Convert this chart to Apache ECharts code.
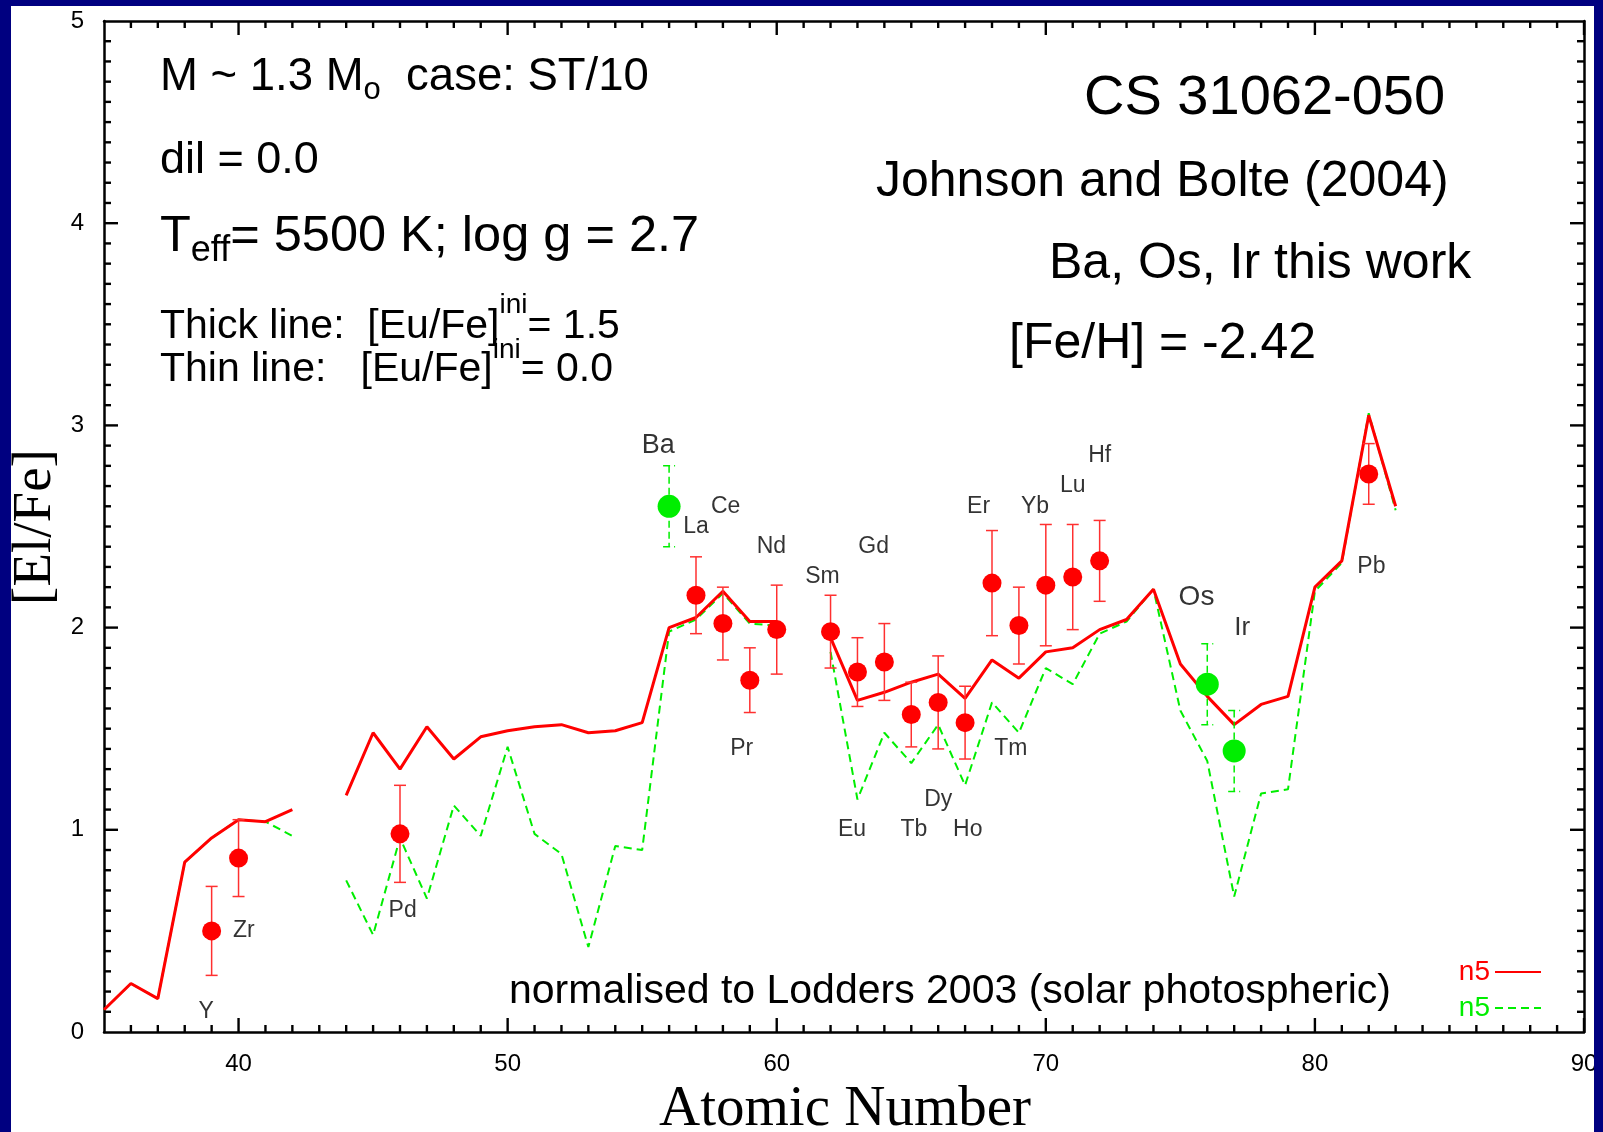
<!DOCTYPE html>
<html><head><meta charset="utf-8">
<script src="https://cdn.jsdelivr.net/npm/echarts@6/dist/echarts.min.js"></script>
<style>html,body{margin:0;padding:0;background:#fff;} #c{width:1603px;height:1132px;}</style>
</head><body><div id="c"></div>
<script>
// ---------- data ----------
const atomicNumbers = [35,36,37,38,39,40,41,42,43,44,45,46,47,48,49,50,51,52,53,54,55,56,57,58,59,60,61,62,63,64,65,66,67,68,69,70,71,72,73,74,75,76,77,78,79,80,81,82,83];
// thick line model ([Eu/Fe]ini = 1.5); null = element not plotted (Tc, Pm)
const modelThick = [0.11,0.24,0.165,0.84,0.96,1.05,1.04,1.10,null,1.17,1.48,1.30,1.51,1.35,1.46,1.49,1.51,1.52,1.48,1.49,1.53,2.00,2.05,2.18,2.03,2.03,null,1.95,1.64,1.68,1.73,1.77,1.65,1.84,1.75,1.88,1.90,1.99,2.04,2.19,1.82,1.66,1.52,1.62,1.66,2.20,2.33,3.05,2.60];
// thin line model ([Eu/Fe]ini = 0.0)
const modelThin = [0.11,0.24,0.165,0.84,0.96,1.05,1.04,0.97,null,0.75,0.48,0.96,0.66,1.12,0.97,1.41,0.98,0.88,0.42,0.92,0.90,1.98,2.04,2.17,2.02,2.01,null,1.88,1.15,1.48,1.33,1.52,1.22,1.63,1.48,1.80,1.72,1.97,2.03,2.19,1.59,1.34,0.67,1.18,1.20,2.18,2.32,3.06,2.58];
// observations, Johnson and Bolte (2004)
const obsRedZ   = [39,40,46,57,58,59,60,62,63,64,65,66,67,68,69,70,71,72,82];
const obsRedVal = [0.50,0.86,0.98,2.16,2.02,1.74,1.99,1.98,1.78,1.83,1.57,1.63,1.53,2.22,2.01,2.21,2.25,2.33,2.76];
const obsRedErr = [0.22,0.19,0.24,0.19,0.18,0.16,0.22,0.18,0.17,0.19,0.16,0.23,0.18,0.26,0.19,0.30,0.26,0.20,0.15];
// observations, this work (Ba, Os, Ir)
const obsGreenZ   = [56,76,77];
const obsGreenVal = [2.60,1.72,1.39];
const obsGreenErr = [0.20,0.20,0.20];
// element labels and their anchor points (data units)
const elementNames = ['Y','Zr','Pd','Ba','La','Ce','Nd','Pr','Sm','Gd','Eu','Tb','Dy','Ho','Er','Tm','Yb','Lu','Hf','Os','Ir','Pb'];
const elementLabelZ = [38.8,40.2,46.1,55.6,57.0,58.1,59.8,58.7,61.7,63.6,62.8,65.1,66.0,67.1,67.5,68.7,69.6,71.0,72.0,75.6,77.3,82.1];
const elementLabelV = [0.1,0.5,0.6,2.9,2.5,2.6,2.4,1.4,2.25,2.4,1.0,1.0,1.15,1.0,2.6,1.4,2.6,2.7,2.85,2.15,2.0,2.3];
const elementLabelSize = [23,23,23,27,23,23,23,23,23,23,23,23,23,23,23,23,23,23,23,28,26,23];
// tick labels / tick values
const xLabelTicks = [40,50,60,70,80,90];
const yLabelTicks = [0,1,2,3,4,5];
const xMinorTicks = [36,37,38,39,41,42,43,44,45,46,47,48,49,51,52,53,54,55,56,57,58,59,61,62,63,64,65,66,67,68,69,71,72,73,74,75,76,77,78,79,81,82,83,84,85,86,87,88,89];

// ---------- build ----------
const SANS = 'Liberation Sans';
const RED = '#ff0000', GREEN = '#00ee00';
const GRID = {left:104, top:21, width:1480, height:1011};

const thickData = atomicNumbers.map((z,i)=>[z, modelThick[i]]);
const thinData  = atomicNumbers.map((z,i)=>[z, modelThin[i]]);
const redObs = obsRedZ.map((z,i)=>[z, obsRedVal[i], obsRedErr[i]]);
const greenObs = obsGreenZ.map((z,i)=>[z, obsGreenVal[i], obsGreenErr[i]]);
const labelData = elementNames.map((n,i)=>({
  value:[elementLabelZ[i], elementLabelV[i]], name:n,
  label:{fontSize: elementLabelSize[i]}
}));

function errRender(color, dashed){
  return function(params, api){
    const x = api.value(0), v = api.value(1), e = api.value(2);
    const top = api.coord([x, v+e]), bot = api.coord([x, v-e]);
    const hw = 6;
    const style = {stroke: color, lineWidth: 1.5, lineDash: dashed ? [7,4] : null, fill: null};
    return {type:'group', children:[
      {type:'line', shape:{x1:top[0],y1:top[1],x2:bot[0],y2:bot[1]}, style: style},
      {type:'line', shape:{x1:top[0]-hw,y1:top[1],x2:top[0]+hw,y2:top[1]}, style: style},
      {type:'line', shape:{x1:bot[0]-hw,y1:bot[1],x2:bot[0]+hw,y2:bot[1]}, style: style}
    ]};
  };
}

function xAxisDef(pos, labels){
  return {
    type:'value', position: pos, min:35, max:90, gridIndex:0,
    axisLine:{show:true, onZero:false, lineStyle:{color:'#000', width:2.5}},
    splitLine:{show:false},
    axisTick:{show:false},
    axisLabel:{show: labels, fontSize:24, fontFamily:SANS, color:'#000', margin:20, customValues: xLabelTicks}
  };
}
function yAxisDef(pos, labels){
  return {
    type:'value', position: pos, min:0, max:5, interval:1, gridIndex:0,
    axisLine:{show:true, onZero:false, lineStyle:{color:'#000', width:2.5}},
    splitLine:{show:false},
    axisTick:{show:false},
    axisLabel:{show: labels, fontSize:24, fontFamily:SANS, color:'#000', margin:20, customValues: yLabelTicks}
  };
}

function txt(x, y, text, rich){
  return {
    type:'text', x:x, y:y, z:50, silent:true,
    style:{text:text, fill:'#000', align:'left', verticalAlign:'middle', rich:rich, fontFamily:SANS}
  };
}
function tok(size, pad){ const t = {fontSize:size, fontFamily:SANS, fill:'#000'}; if(pad) t.padding = pad; return t; }

const baseGraphics = [
  {type:'rect', z:100, silent:true, shape:{x:0,y:0,width:1603,height:6}, style:{fill:'#000080'}},
  {type:'rect', z:100, silent:true, shape:{x:0,y:0,width:11,height:1132}, style:{fill:'#000080'}},
  {type:'rect', z:100, silent:true, shape:{x:1594,y:0,width:9,height:1132}, style:{fill:'#000080'}},
  {type:'text', x:845, y:1110, z:50, silent:true, style:{text:'Atomic Number', fill:'#000', font:'57px "Liberation Serif"', align:'center', verticalAlign:'middle'}},
  {type:'text', x:36, y:527, rotation: Math.PI/2, z:50, silent:true, style:{text:'[El/Fe]', fill:'#000', font:'55px "Liberation Serif"', align:'center', verticalAlign:'middle'}},
  txt(160, 77, '{a|M ~ 1.3 M}{s|o}{a|  case: ST/10}', {a:tok(45.5), s:tok(31,[26,0,0,0])}),
  txt(160, 161, '{a|dil = 0.0}', {a:tok(45)}),
  txt(160, 237, '{a|T}{s|eff}{a|= 5500 K; log g = 2.7}', {a:tok(50.5), s:tok(36,[28,0,0,0])}),
  txt(160, 327, '{a|Thick line:  [Eu/Fe]}{p|ini}{a|= 1.5}', {a:tok(41), p:tok(28,[0,0,44,0])}),
  txt(160, 370, '{a|Thin line:   [Eu/Fe]}{p|ini}{a|= 0.0}', {a:tok(41), p:tok(28,[0,0,40,0])}),
  txt(1084, 99, '{a|CS 31062-050}', {a:tok(56)}),
  txt(876, 182, '{a|Johnson and Bolte (2004)}', {a:tok(50)}),
  txt(1049, 264, '{a|Ba, Os, Ir this work}', {a:tok(50)}),
  txt(1009, 344, '{a|[Fe/H] = -2.42}', {a:tok(50)}),
  txt(509, 992, '{a|normalised to Lodders 2003 (solar photospheric)}', {a:tok(41)})
];

const chart = echarts.init(document.getElementById('c'), null, {renderer:'canvas'});
chart.setOption({
  backgroundColor:'#ffffff',
  animation:false,
  grid:{show:false, left:GRID.left, top:GRID.top, width:GRID.width, height:GRID.height},
  xAxis:[ xAxisDef('bottom', true), xAxisDef('top', false) ],
  yAxis:[ yAxisDef('left', true), yAxisDef('right', false) ],
  legend:{
    orient:'vertical', right:56, top:953, align:'right', itemWidth:46, itemHeight:14, itemGap:8,
    selectedMode:false,
    itemStyle:{color:'rgba(0,0,0,0)', borderWidth:0, opacity:0},
    formatter: n => n.trim(),
    data:[{name:'n5', textStyle:{color:RED}}, {name:'n5 ', textStyle:{color:GREEN}}],
    textStyle:{fontSize:28, fontFamily:SANS}
  },
  series:[
    {name:'n5 ', type:'line', data: thinData, showSymbol:false, symbol:'none', connectNulls:false,
     lineStyle:{color:GREEN, width:2, type:[8,5]}, itemStyle:{color:GREEN}, z:3},
    {name:'n5', type:'line', data: thickData, showSymbol:false, symbol:'none', connectNulls:false,
     lineStyle:{color:RED, width:3}, itemStyle:{color:RED}, z:4},
    {type:'custom', data: redObs, renderItem: errRender('#ff3030', false), encode:{x:0,y:1}, z:5, silent:true},
    {type:'custom', data: greenObs, renderItem: errRender(GREEN, true), encode:{x:0,y:1}, z:5, silent:true},
    {type:'scatter', data: redObs.map(d=>[d[0],d[1]]), symbolSize:19, itemStyle:{color:RED, opacity:1}, z:6, silent:true},
    {type:'scatter', data: greenObs.map(d=>[d[0],d[1]]), symbolSize:23, itemStyle:{color:GREEN, opacity:1}, z:6, silent:true},
    {type:'scatter', data: labelData, symbolSize:0, silent:true, z:7,
     label:{show:true, position:'inside', formatter: p => p.name, color:'#000', fontFamily:SANS}}
  ],
  graphic: baseGraphics
});

// inward tick marks on all four sides (filled black bars), placed through the chart's own axis scales
function toPx(v){
  let p = null;
  try { p = chart.convertToPixel({xAxisIndex:0, yAxisIndex:0}, v); } catch (e) { p = null; }
  if (!p || !isFinite(p[0]) || !isFinite(p[1])) {
    p = [GRID.left + (v[0] - 35) / 55 * GRID.width, GRID.top + (5 - v[1]) / 5 * GRID.height];
  }
  return p;
}
const tickEls = [];
function bar(x, y, w, h){
  tickEls.push({type:'rect', z:95, silent:true, shape:{x:x, y:y, width:w, height:h}, style:{fill:'#000000'}});
}
const pLo = toPx([35, 0]), pHi = toPx([90, 5]);
const yb = pLo[1], yt = pHi[1], xl = pLo[0], xr = pHi[0];
const TW = 2.4;
xLabelTicks.concat(xMinorTicks).forEach(v => {
  const len = xLabelTicks.indexOf(v) >= 0 ? 14 : 7;
  const px = toPx([v, 0])[0];
  bar(px - TW/2, yb - len, TW, len);
  bar(px - TW/2, yt, TW, len);
});
for (let k = 1; k < 50; k++) {
  const len = k % 10 === 0 ? 14 : 7;
  const py = toPx([35, k / 10])[1];
  bar(xl, py - TW/2, len, TW);
  bar(xr - len, py - TW/2, len, TW);
}
chart.setOption({graphic: baseGraphics.concat(tickEls)});
</script></body></html>
